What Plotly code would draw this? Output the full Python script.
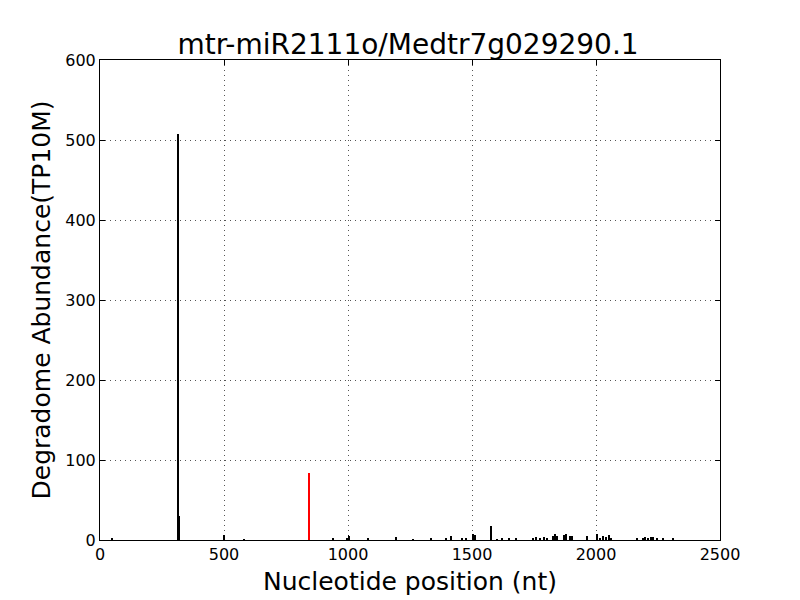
import plotly.graph_objects as go

# Degradome reads (black) : position (nt) and abundance (TP10M)
positions = [50, 316, 319, 500, 582, 941, 995, 1004, 1082, 1196, 1263, 1335, 1395, 1418,
             1461, 1478, 1503, 1515, 1578, 1600, 1620, 1650, 1680, 1747, 1760, 1775, 1790,
             1802, 1828, 1836, 1842, 1871, 1880, 1895, 1903, 1964, 2003, 2016, 2030, 2040,
             2052, 2063, 2165, 2190, 2200, 2212, 2222, 2230, 2245, 2270, 2311]
abundance = [3, 507, 30, 6, 1, 3, 3, 5, 3, 4, 1, 3, 3, 5,
             3, 3, 8, 6, 17, 1, 2, 3, 3, 3, 4, 3, 4,
             3, 5, 7, 5, 6, 7, 5, 5, 5, 7, 3, 5, 4,
             6, 3, 2, 3, 4, 3, 4, 4, 3, 3, 3]

# miRNA target site (red)
target_pos = [843]
target_abund = [84]

title = "mtr-miR2111o/Medtr7g029290.1"
x_ticks = [0, 500, 1000, 1500, 2000, 2500]
y_ticks = [0, 100, 200, 300, 400, 500, 600]

fig = go.Figure()
fig.add_trace(go.Bar(x=positions, y=abundance, width=6,
                     marker=dict(color="black", line=dict(width=0))))
fig.add_trace(go.Bar(x=target_pos, y=target_abund, width=9,
                     marker=dict(color="red", line=dict(width=0))))

axis_common = dict(showline=True, linecolor="black", linewidth=1, mirror="allticks",
                   ticks="inside", ticklen=5, tickcolor="black",
                   showgrid=True, gridcolor="#555555", griddash="1px,4px", gridwidth=1,
                   zeroline=False, tickfont=dict(family="DejaVu Sans", size=16, color="black"))

fig.update_layout(
    width=800, height=600,
    paper_bgcolor="white", plot_bgcolor="white",
    showlegend=False, bargap=0,
    margin=dict(l=92, r=88, t=52, b=68),
    title=dict(text=title, x=0.5, xanchor="center", y=0.94, yanchor="middle",
               font=dict(family="DejaVu Sans", size=28, color="black")),
    xaxis=dict(range=[0, 2500], tickvals=x_ticks,
               title=dict(text="Nucleotide position (nt)", standoff=9,
                          font=dict(family="DejaVu Sans", size=25, color="black")),
               **axis_common),
    yaxis=dict(range=[0, 600], tickvals=y_ticks,
               title=dict(text="Degradome Abundance(TP10M)", standoff=7,
                          font=dict(family="DejaVu Sans", size=25, color="black")),
               **axis_common),
)

fig.write_html("out.html")
